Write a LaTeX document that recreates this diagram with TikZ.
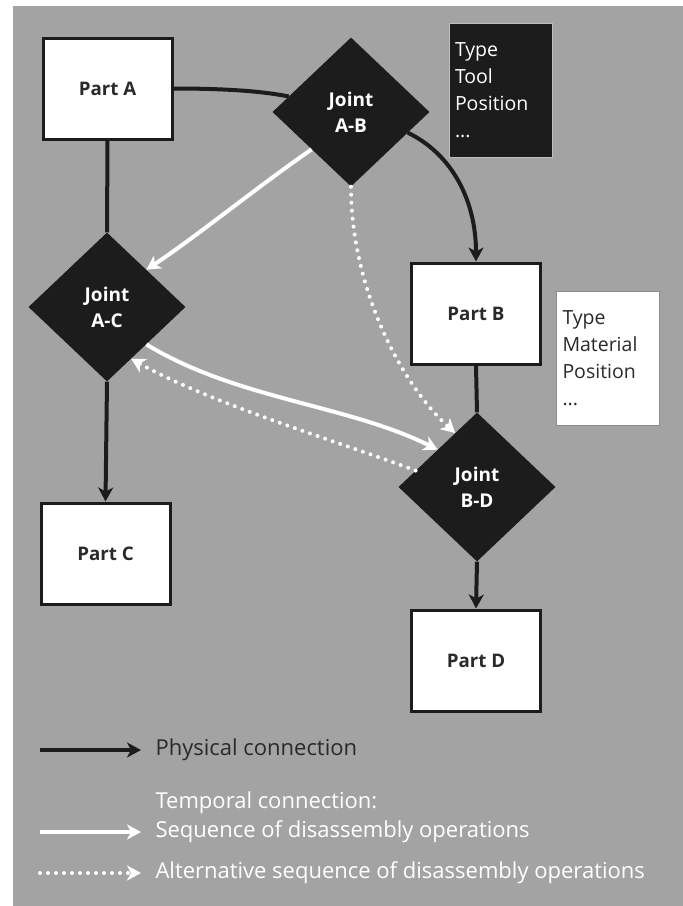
\documentclass[tikz,border=0pt]{standalone}
\usepackage{fontspec}
\setmainfont{Open Sans}
\usepackage{tikz}
\usetikzlibrary{positioning,shapes.geometric,arrows.meta}
\definecolor{bggray}{HTML}{A3A3A3}
\definecolor{ink}{HTML}{1C1C1C}
\definecolor{txtgray}{HTML}{2A2A2A}

\begin{document}
\begin{tikzpicture}[x=1pt,y=-1pt,
  part/.style={draw=ink,line width=3pt,fill=white,minimum width=129pt,minimum height=101pt,text=txtgray,font=\fontsize{18.7}{22}\selectfont\bfseries},
  joint/.style={diamond,fill=ink,minimum width=157pt,minimum height=149pt,inner sep=0pt,align=center,text=white,font=\fontsize{19}{26}\selectfont\bfseries},
  info/.style={minimum width=103pt,minimum height=134pt,text width=91pt,inner xsep=6pt,align=left,line width=1pt,font=\fontsize{19.5}{27}\selectfont},
  phys/.style={ink,line width=4pt},
  seq/.style={white,line width=4pt},
  alt/.style={white,line width=4pt,line cap=round,dash pattern=on 0pt off 8pt},
  tip/.style={-{Stealth[length=14pt,width=15pt,inset=4pt]}},
  legend/.style={anchor=west,text=white,font=\fontsize{22}{24}\selectfont}]
\useasboundingbox (0,0) rectangle (683,906);
\fill[bggray] (13,6) rectangle (683,906);
%
\node[part] (pa) at (107.5,88.5) {Part A};
\node[part] (pb) at (476,313.5) {Part B};
\node[part] (pc) at (105.5,553.5) {Part C};
\node[part] (pd) at (476,660.5) {Part D};
\node[joint] (jab) at (351,112) {Joint\\A-B};
\node[joint] (jac) at (107,307) {Joint\\A-C};
\node[joint] (jbd) at (477,487) {Joint\\B-D};
\node[info,fill=ink,draw=black!25,text=white] (tool) at (500.5,90) {Type\\Tool\\Position\\...};
\node[info,fill=white,draw=black!45,text=txtgray] (mat) at (608,358.5) {Type\\Material\\Position\\...};
%
\draw[phys] (pa.east) .. controls +(45,0) and +(-30,-6) .. (jab.166);
\draw[phys] (pa.south) -- (jac.north);
\draw[phys] (pb.south) -- (jbd.north);
\draw[phys,tip] (jab.-20) .. controls +(45,22) and +(0,-60) .. (pb.north);
\draw[phys,tip] (jac.south) -- (pc.north);
\draw[phys,tip] (jbd.south) -- (pd.north);
\draw[seq,tip] (jab.south west) .. controls +(-55,38) and +(50,-33) .. (jac.north east);
\draw[seq,tip] (jac.south east) .. controls +(90,55) and +(-90,-45) .. (jbd.north west);
\draw[alt,tip] (jab.south) .. controls +(0,100) and +(-55,-50) .. (jbd.112);
\draw[alt,tip] (jbd.165) .. controls +(-80,-30) and +(80,45) .. (jac.-65);
%
\coordinate (l1a) at (40,750);
\coordinate (l2a) at (40,832);
\coordinate (l3a) at (40,873);
\node[legend,text=txtgray] (l1) at (152,750) {Physical connection};
\node[legend] (l0) at (152,803) {Temporal connection:};
\node[legend] (l2) at (152,832) {Sequence of disassembly operations};
\node[legend] (l3) at (152,873) {Alternative sequence of disassembly operations};
\draw[phys,tip,shorten >=11pt] (l1a) -- (l1.west);
\draw[seq,tip,shorten >=11pt] (l2a) -- (l2.west);
\draw[alt,tip,shorten >=11pt] (l3a) -- (l3.west);
\end{tikzpicture}
\end{document}
